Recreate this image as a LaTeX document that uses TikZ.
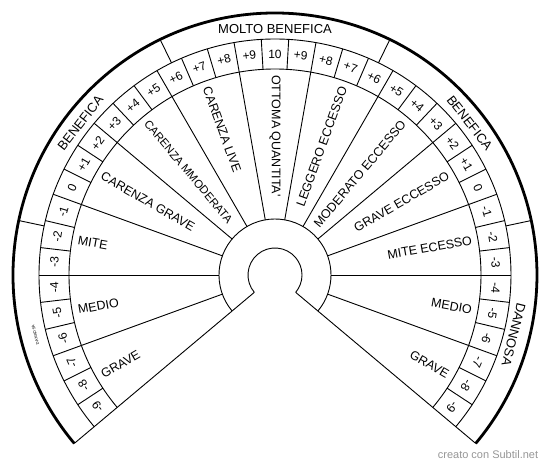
\documentclass[tikz,border=0pt]{standalone}
\usepackage{fontspec}
\setmainfont{Liberation Sans}
\begin{document}
\begin{tikzpicture}[x=1pt,y=1pt,
  thinline/.style={line width=0.9pt},
  thickline/.style={line width=2.8pt},
  numlbl/.style={inner sep=0pt, font=\fontsize{12}{14}\selectfont},
  seclbl/.style={inner sep=0pt, font=\fontsize{12.5}{14}\selectfont},
  narrowlbl/.style={inner sep=0pt, font=\fontsize{11.4}{14}\selectfont},
  outlbl/.style={inner sep=0pt, font=\fontsize{13}{15}\selectfont},
  tinylbl/.style={inner sep=0pt, font=\fontsize{4}{5}\selectfont},
  wmark/.style={inner sep=0pt, text={rgb,255:red,150;green,150;blue,150}, font=\fontsize{11}{13}\selectfont}]
\useasboundingbox (-275,-191) rectangle (275,275);
% outer thick arc
\draw[thickline] (220:262pt) arc[start angle=220, end angle=-40, radius=262pt];
% number ring arcs
\draw[thinline] (220:236pt) arc[start angle=220, end angle=-40, radius=236pt];
\draw[thinline] (220:206pt) arc[start angle=220, end angle=-40, radius=206pt];
% hub arcs
\draw[thinline] (220:56pt) arc[start angle=220, end angle=-40, radius=56pt];
\draw[thinline] (220:27pt) arc[start angle=220, end angle=-40, radius=27pt];
% boundary radial lines
\draw[thinline] (220:27pt) -- (220:262pt);
\draw[thinline] (-40:27pt) -- (-40:262pt);
% sector lines
\foreach \a in {200,180,...,-20} {\draw[thinline] (\a:56pt) -- (\a:206pt);}
% cell boundaries
\foreach \k in {1,...,38} {
  \pgfmathsetmacro\a{220-\k*260/39}
  \draw[thinline] (\a:206pt) -- (\a:236pt);
}
% outer dividers
\foreach \a in {168,116,64,12} {\draw[thinline] (\a:236pt) -- (\a:262pt);}
% numbers
\foreach \t [count=\i] in {-9,-8,-7,-6,-5,-4,-3,-2,-1,0,+1,+2,+3,+4,+5,+6,+7,+8,+9,10,+9,+8,+7,+6,+5,+4,+3,+2,+1,0,-1,-2,-3,-4,-5,-6,-7,-8,-9} {
  \pgfmathsetmacro\a{220-(\i-0.5)*260/39}
  \node[numlbl, rotate=\a-90] (n\i) at (\a:221pt) {\t};
}
% sector labels, left half
\node[seclbl, anchor=west, rotate=30] (s1) at (210:200pt) {GRAVE};
\node[seclbl, anchor=west, rotate=10] (s2) at (190:200pt) {MEDIO};
\node[seclbl, anchor=west, rotate=-10] (s3) at (170:200pt) {MITE};
\node[seclbl, anchor=west, rotate=-30] (s4) at (150:200pt) {CARENZA GRAVE};
\node[narrowlbl, anchor=west, rotate=-50] (s5) at (130:200pt) {CARENZA MMODERATA};
\node[seclbl, anchor=west, rotate=-70] (s6) at (110:200pt) {CARENZA LIVE};
\node[seclbl, anchor=west, rotate=-90] (s7) at (90:200pt) {OTTOMA QUANTITA\textquotesingle};
% sector labels, right half
\node[seclbl, anchor=east, rotate=70] (s8) at (70:200pt) {LEGGERO ECCESSO};
\node[seclbl, anchor=east, rotate=50] (s9) at (50:200pt) {MODERATO ECCESSO};
\node[seclbl, anchor=east, rotate=30] (s10) at (30:200pt) {GRAVE ECCESSO};
\node[seclbl, anchor=east, rotate=10] (s11) at (10:200pt) {MITE ECESSO};
\node[seclbl, anchor=east, rotate=-10] (s12) at (-10:200pt) {MEDIO};
\node[seclbl, anchor=east, rotate=-30] (s13) at (-30:200pt) {GRAVE};
% outer ring labels
\node[outlbl, rotate=52] (o1) at (142:247pt) {BENEFICA};
\node[outlbl] (o2) at (90:246pt) {MOLTO BENEFICA};
\node[outlbl, rotate=-52] (o3) at (38:247pt) {BENEFICA};
\node[outlbl, rotate=-104] (o4) at (-14:246pt) {DANNOSA};
\node[tinylbl, rotate=104] (o5) at (194:247pt) {DANNOSA};
% watermark
\node[wmark] (wm) at (213,-180) {creato con Subtil.net};
\end{tikzpicture}
\end{document}
